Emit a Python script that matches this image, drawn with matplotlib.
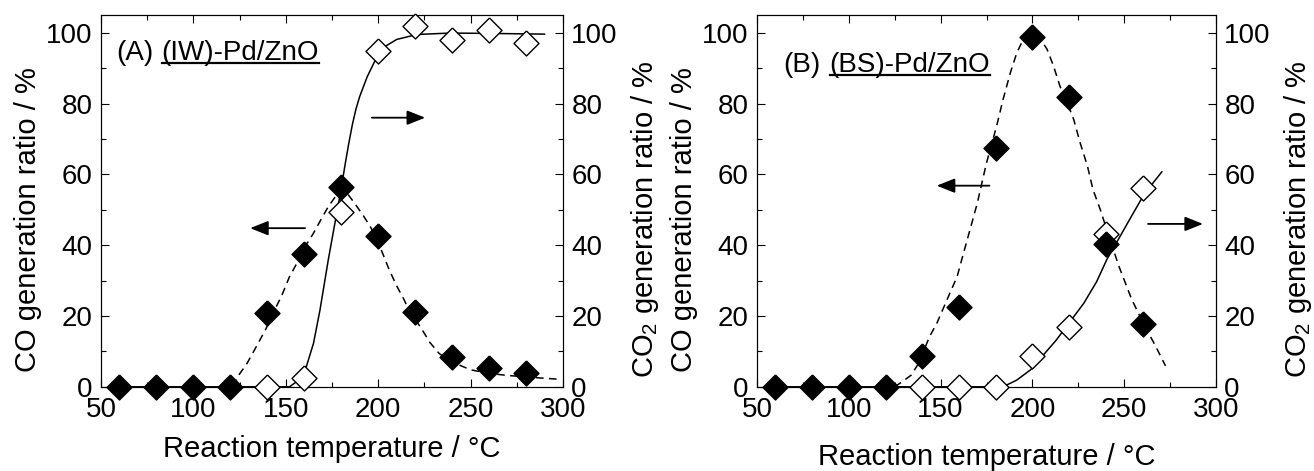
import matplotlib
matplotlib.use("Agg")
import matplotlib.pyplot as plt
from matplotlib.ticker import MultipleLocator
from matplotlib.lines import Line2D

plt.rcParams['font.family'] = ['Liberation Sans', 'DejaVu Sans']
plt.rcParams['mathtext.fontset'] = 'custom'
plt.rcParams['mathtext.rm'] = 'Liberation Sans'
plt.rcParams['mathtext.it'] = 'Liberation Sans:italic'

# ---- (A) (IW)-Pd/ZnO ----
iw_temp = [60, 80, 100, 120, 140, 160, 180, 200, 220, 240, 260, 280]
iw_co = [0, 0, 0, 0, 20.8, 37.5, 56.5, 42.6, 21.0, 8.5, 5.4, 4.0]
iw_co2_temp = [140, 160, 180, 200, 220, 240, 260, 280]
iw_co2 = [0, 2.5, 49.5, 94.7, 101.8, 97.9, 100.8, 97.2]

# fitted curves
iw_co_fit_x = [122, 124, 129, 134, 139, 144, 148, 152, 156, 160, 165, 169, 173, 177, 180,
               183, 187, 192, 196, 201, 206, 210, 214, 217, 223, 228, 233, 239, 250, 260,
               270, 280, 290, 299]
iw_co_fit_y = [0, 2.9, 6.6, 11.3, 16.1, 21.7, 26, 31.1, 34.9, 39.2, 43.4, 47.2, 50.9, 53.8, 55.7,
               54.8, 52, 48.3, 45, 39.5, 33, 28.5, 24.6, 21.2, 16.8, 12.5, 9.4, 7.2, 4.8, 3.8,
               3.2, 2.8, 2.4, 2.1]
iw_co2_fit_x = [60, 152, 156, 161, 165, 168.5, 173, 176.5, 180, 182, 184, 186, 188, 190, 194,
                198, 204, 210, 221, 239, 260, 290]
iw_co2_fit_y = [0, 0, 1.5, 5.5, 12.3, 21.7, 35.9, 46, 56, 62.5, 68.5, 74, 78.5, 82, 87.5,
                91.8, 96.2, 98.1, 99.5, 99.9, 99.8, 99.6]

# ---- (B) (BS)-Pd/ZnO ----
bs_temp = [60, 80, 100, 120, 140, 160, 180, 200, 220, 240, 260]
bs_co = [0, 0, 0, 0, 8.8, 22.5, 67.3, 98.9, 81.9, 40.4, 17.7]
bs_co2_temp = [140, 160, 180, 200, 220, 240, 260]
bs_co2 = [0, 0, 0, 8.6, 16.8, 43.2, 56.1]

bs_co_fit_x = [125, 129, 134, 138, 141, 144, 148, 151.5, 155, 159, 161.5, 164, 167, 170, 172.5,
               175, 178, 180.5, 184, 188, 191.5, 195, 200, 204, 208, 211.5, 215, 219, 222.5,
               226, 230, 233, 237, 240.5, 247, 254, 261, 267, 272.5]
bs_co_fit_y = [0, 1.4, 3.3, 6.6, 10.4, 14.2, 18, 22.2, 26.4, 31.1, 35.9, 40.6, 46.2, 51.9, 57.6,
               63.2, 68.9, 73.6, 81.1, 88.7, 94.3, 98.1, 99.5, 98.6, 95.3, 90.6, 84.9, 80.2, 75.5,
               68.9, 62.3, 55.7, 50, 44.4, 34.2, 24.8, 17.3, 11.6, 5.9]
bs_co2_fit_x = [60, 184, 191.5, 199, 206, 213, 220.5, 228, 235, 240.5, 247, 254, 261, 270.5]
bs_co2_fit_y = [0, 0, 1.9, 4.8, 9, 13.2, 18.4, 23.6, 29.7, 35.9, 41.8, 48.2, 54.5, 60.7]

W, H = 1314, 471
fig = plt.figure(figsize=(W / 100, H / 100), dpi=100)

diamond = [(0, 1), (1, 0), (0, -1), (-1, 0), (0, 1)]
TICK = 20
LAB = 21


def panel(rect, temp, co, co2_temp, co2, fx1, fy1, fx2, fy2, xlab_y):
    ax = fig.add_axes(rect)
    ax2 = ax.twinx()
    ax.plot(fx1, fy1, 'k--', lw=1.1, dashes=(5, 3.5), zorder=2)
    ax2.plot(fx2, fy2, 'k-', lw=1.1, zorder=2)
    ax2.plot(co2_temp, co2, linestyle='none', marker=diamond, ms=18, mfc='white',
             mec='k', mew=1.0, clip_on=False, zorder=3)
    ax2.plot(temp, co, linestyle='none', marker=diamond, ms=18, mfc='k',
             mec='k', mew=1.0, clip_on=False, zorder=4)
    for a in (ax, ax2):
        a.set_xlim(50, 300)
        a.set_ylim(0, 105)
        a.yaxis.set_major_locator(MultipleLocator(20))
        a.yaxis.set_minor_locator(MultipleLocator(10))
        a.xaxis.set_major_locator(MultipleLocator(50))
        a.xaxis.set_minor_locator(MultipleLocator(25))
        a.tick_params(which='both', direction='in', labelsize=TICK, width=0.8)
        a.tick_params(which='major', length=6)
        a.tick_params(which='minor', length=3.5)
        for s in a.spines.values():
            s.set_linewidth(0.8)
    ax.tick_params(axis='x', which='both', top=True, pad=7)
    ax.tick_params(axis='y', pad=6)
    ax2.tick_params(axis='y', pad=6)
    ax.set_ylabel('CO generation ratio / %', fontsize=LAB)
    ax2.set_ylabel('CO$_2$ generation ratio / %', fontsize=LAB)
    ax.yaxis.set_label_coords(-0.128, 0.45)
    ax2.yaxis.set_label_coords(1.143, 0.45)
    ax.set_xlabel('Reaction temperature / °C', fontsize=LAB, va='center')
    ax.xaxis.set_label_coords(0.5, xlab_y)
    return ax, ax2


def arrow(ax, tail, head):
    ax.annotate('', xy=head, xytext=tail,
                arrowprops=dict(arrowstyle='-|>,head_length=0.55,head_width=0.22',
                                color='k', lw=1.3, mutation_scale=20,
                                shrinkA=0, shrinkB=0))


def title(ax, x1, x2, y, tag, name):
    ax.text(x1, y, tag, transform=ax.transAxes, fontsize=20, va='baseline')
    t = ax.text(x2, y, name, transform=ax.transAxes, fontsize=20, va='baseline')
    fig.canvas.draw()
    bb = t.get_window_extent()
    base = ax.transAxes.transform((x2, y))[1] - 3.5
    inv = fig.transFigure.inverted()
    p0 = inv.transform((bb.x0, base))
    p1 = inv.transform((bb.x1, base))
    fig.add_artist(Line2D([p0[0], p1[0]], [p0[1], p1[1]], color='k', lw=1.6,
                          transform=fig.transFigure))


axA, axA2 = panel([101 / W, 84.2 / H, 462 / W, 371.8 / H], iw_temp, iw_co, iw_co2_temp, iw_co2,
                  iw_co_fit_x, iw_co_fit_y, iw_co2_fit_x, iw_co2_fit_y, -0.167)
axB, axB2 = panel([757 / W, 84.2 / H, 459 / W, 371.8 / H], bs_temp, bs_co, bs_co2_temp, bs_co2,
                  bs_co_fit_x, bs_co_fit_y, bs_co2_fit_x, bs_co2_fit_y, -0.190)

arrow(axA2, (196.6, 76), (225.4, 76))
arrow(axA2, (160.4, 44.8), (130.7, 44.8))
arrow(axB2, (176.6, 56.8), (147.9, 56.8))
arrow(axB2, (263, 46), (292.9, 46))

title(axA2, 0.034, 0.131, 0.879, '(A)', '(IW)-Pd/ZnO')
title(axB2, 0.058, 0.158, 0.8475, '(B)', '(BS)-Pd/ZnO')

fig.savefig('out.png', dpi=100)
